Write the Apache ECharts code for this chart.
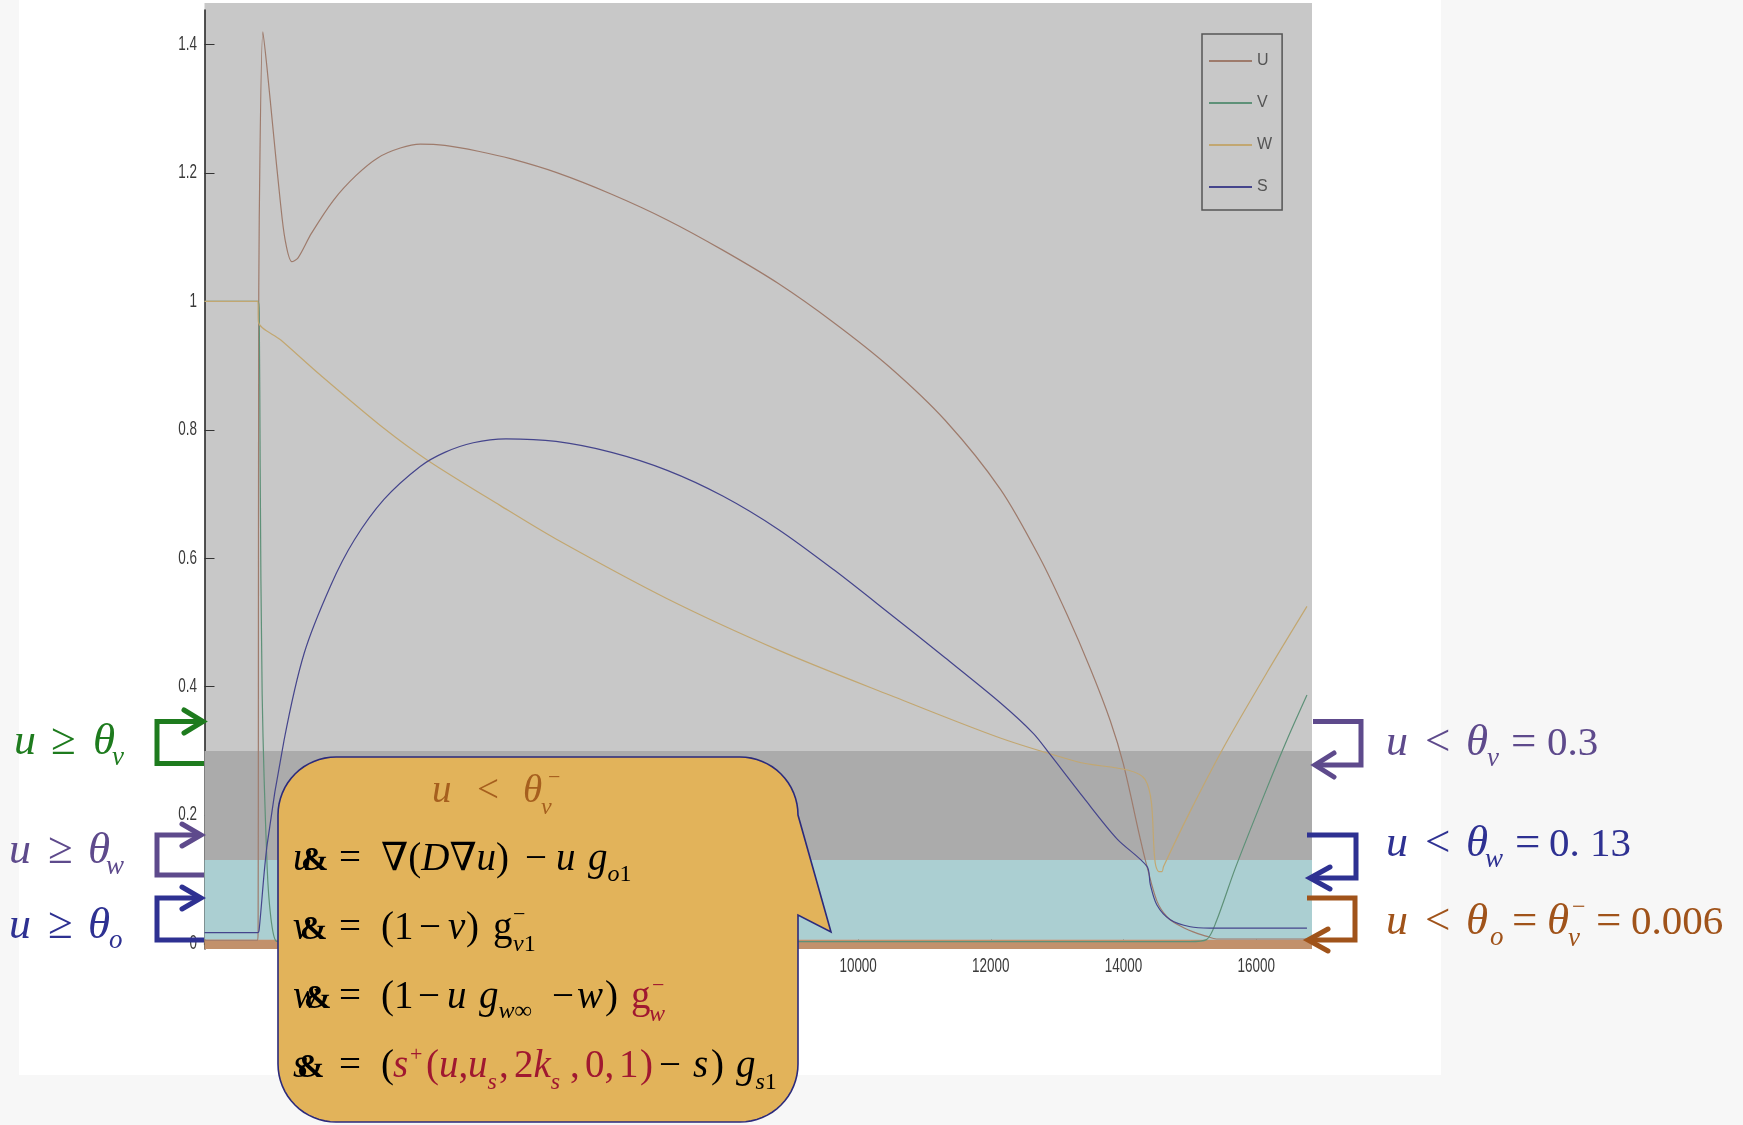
<!DOCTYPE html>
<html>
<head>
<meta charset="utf-8">
<script src="https://cdn.jsdelivr.net/npm/echarts@6/dist/echarts.min.js"></script>
<style>
  html, body { margin: 0; padding: 0; background: #f7f7f7; }
  #chart { width: 1743px; height: 1125px; }
</style>
</head>
<body>
<div id="chart"></div>
<script>
// Time course of the four state variables of the ventricular cell model
// (x: time step, y: normalised value)
const uCurve = [
  [150, 0.005], [950, 0.005], [958, 0.02], [962, 0.4], [966, 0.9], [975, 1.13],
  [1030, 1.42], [1090, 1.366], [1189, 1.262], [1290, 1.158], [1365, 1.096],
  [1466, 1.062], [1560, 1.068], [1761, 1.106], [2096, 1.158], [2431, 1.196],
  [2766, 1.224], [3101, 1.239], [3403, 1.245], [3771, 1.243], [4274, 1.234],
  [4776, 1.222], [5447, 1.201], [6285, 1.167], [7123, 1.127], [7960, 1.080],
  [8798, 1.028], [9635, 0.967], [10473, 0.898], [11311, 0.815], [12148, 0.707],
  [12742, 0.600], [13150, 0.512], [13500, 0.428], [13800, 0.347], [13996, 0.280],
  [14252, 0.163], [14353, 0.12], [14503, 0.066], [14650, 0.042], [14805, 0.030],
  [15050, 0.018], [15257, 0.011], [15400, 0.007], [16764, 0.007]
];
const vCurve = [
  [150, 1.0], [958, 1.0], [975, 0.98], [989, 0.742], [1019, 0.388], [1094, 0.119],
  [1150, 0.04], [1225, 0.004], [1300, 0.003], [15000, 0.003], [15250, 0.006],
  [15400, 0.035], [15683, 0.117], [16161, 0.242], [16462, 0.317], [16764, 0.387]
];
const wCurve = [
  [150, 1.0], [955, 1.0], [962, 0.968], [1300, 0.94], [1900, 0.885], [2858, 0.802],
  [3521, 0.752], [4609, 0.682], [5447, 0.630], [7123, 0.537], [8798, 0.457],
  [10473, 0.387], [12142, 0.320], [13300, 0.283], [14327, 0.255], [14478, 0.125],
  [14530, 0.112], [14580, 0.112], [14603, 0.12], [15000, 0.205], [15532, 0.31],
  [16161, 0.422], [16764, 0.525]
];
const sCurve = [
  [150, 0.017], [955, 0.017], [975, 0.023], [1094, 0.154], [1350, 0.317],
  [1652, 0.452], [2054, 0.558], [2405, 0.628], [2858, 0.692], [3400, 0.743],
  [3771, 0.765], [4200, 0.780], [4693, 0.786], [5447, 0.782], [6285, 0.765],
  [7123, 0.737], [7960, 0.697], [8798, 0.645], [9635, 0.582], [10473, 0.514],
  [11311, 0.445], [12142, 0.375], [12643, 0.327], [12896, 0.294], [13398, 0.227],
  [13901, 0.163], [14353, 0.120], [14403, 0.092], [14503, 0.060], [14704, 0.037],
  [15005, 0.026], [15300, 0.024], [16764, 0.024]
];
const seriesNames = ['U', 'V', 'W', 'S'];
const seriesColors = ['#9E7B6C', '#5E9178', '#C2A771', '#45458C'];
const xTicks = [2000, 4000, 6000, 8000, 10000, 12000, 14000, 16000];
const yTicks = [0, 0.2, 0.4, 0.6, 0.8, 1.0, 1.2, 1.4];
// gate thresholds drawn as horizontal bands
const thetaV = 0.3;
const thetaW = 0.13;
const thetaO = 0.006;

const X_MIN = 150, X_MAX = 16840;
const Y_MIN = -0.0086, Y_MAX = 1.454;

const SERIF = "'Liberation Serif','Times New Roman','DejaVu Serif',serif";
const SANS = "'Liberation Sans',Arial,sans-serif";

const meas = document.createElement('canvas').getContext('2d');
function fontOf(p) {
  return (p.i ? 'italic ' : '') + (p.b ? 'bold ' : '') + p.s + 'px ' + SERIF;
}
const g = [];

// lays out a run of math tokens left to right on a common baseline
function mathRun(base, defaults, parts) {
  let x = 0;
  for (const raw of parts) {
    const p = Object.assign({ s: 39, c: '#000' }, defaults, raw);
    if (p.x != null) x = p.x;
    const font = fontOf(p);
    meas.font = font;
    const w = meas.measureText(p.t).width;
    g.push({
      type: 'text', z: 120, silent: true,
      style: {
        text: p.t, x: x, y: base + (p.dy || 0) - 0.34 * p.s,
        font: font, fill: p.c, align: 'left', verticalAlign: 'middle'
      }
    });
    x += w;
  }
}

function bracket(points, head, color) {
  g.push({ type: 'polyline', z: 110, silent: true, shape: { points: points },
    style: { stroke: color, lineWidth: 5, fill: null, lineJoin: 'miter' } });
  g.push({ type: 'polyline', z: 110, silent: true, shape: { points: head },
    style: { stroke: color, lineWidth: 5, fill: null, lineJoin: 'miter', lineCap: 'round' } });
}

function arcPoints(cx, cy, r, a0, a1) {
  const pts = [];
  const n = 16;
  for (let k = 0; k <= n; k++) {
    const a = (a0 + (a1 - a0) * k / n) * Math.PI / 180;
    pts.push([cx + r * Math.cos(a), cy + r * Math.sin(a)]);
  }
  return pts;
}

// slide and figure backgrounds
g.push({ type: 'rect', z: -20, silent: true, shape: { x: 19, y: 0, width: 1422, height: 1075 }, style: { fill: '#ffffff' } });
g.push({ type: 'rect', z: -10, silent: true, shape: { x: 204.5, y: 3, width: 1107.5, height: 946 }, style: { fill: '#C8C8C8' } });

// threshold arrows on the left
const GREEN = '#1E7B1E', PURPLE = '#5E4A8C', BLUE = '#2E3192', BROWN = '#A0531A', RED = '#A01830';
bracket([[204, 763.5], [157, 763.5], [157, 721.5], [200, 721.5]], [[184, 710], [203, 721.5], [184, 733]], GREEN);
bracket([[204, 875], [157, 875], [157, 835], [198, 835]], [[182, 824], [201, 835], [182, 846]], PURPLE);
bracket([[204, 940], [157, 940], [157, 898], [198, 898]], [[182, 887], [201, 898], [182, 909]], BLUE);
// threshold arrows on the right
bracket([[1313, 721.5], [1361, 721.5], [1361, 765], [1318, 765]], [[1334, 753], [1315, 765], [1334, 777]], PURPLE);
bracket([[1307, 835], [1356, 835], [1356, 878], [1313, 878]], [[1330, 867], [1310, 878], [1330, 889]], BLUE);
bracket([[1307, 898], [1355, 898], [1355, 940], [1311, 940]], [[1328, 929], [1308, 940], [1328, 951]], BROWN);

// left labels
const SYM = 45;
mathRun(757, { c: GREEN, s: 44 }, [
  { t: 'u', i: 1, x: 14 }, { t: '≥', s: SYM, x: 51 }, { t: 'θ', i: 1, s: SYM, x: 93 }, { t: 'v', i: 1, s: 27, x: 112, dy: 10 }
]);
mathRun(866, { c: PURPLE, s: 44 }, [
  { t: 'u', i: 1, x: 9 }, { t: '≥', s: SYM, x: 48 }, { t: 'θ', i: 1, s: SYM, x: 88 }, { t: 'w', i: 1, s: 27, x: 106, dy: 10 }
]);
mathRun(941, { c: BLUE, s: 44 }, [
  { t: 'u', i: 1, x: 9 }, { t: '≥', s: SYM, x: 48 }, { t: 'θ', i: 1, s: SYM, x: 88 }, { t: 'o', i: 1, s: 27, x: 109, dy: 9 }
]);
// right labels
mathRun(758, { c: PURPLE, s: 44 }, [
  { t: 'u', i: 1, x: 1386 }, { t: '<', s: SYM, x: 1425 }, { t: 'θ', i: 1, s: SYM, x: 1466 }, { t: 'v', i: 1, s: 27, x: 1487, dy: 10 },
  { t: '=', s: SYM, x: 1511 }, { t: '0.3', s: 41, x: 1547 }
]);
mathRun(859, { c: BLUE, s: 44 }, [
  { t: 'u', i: 1, x: 1386 }, { t: '<', s: SYM, x: 1425 }, { t: 'θ', i: 1, s: SYM, x: 1466 }, { t: 'w', i: 1, s: 27, x: 1485, dy: 10 },
  { t: '=', s: SYM, x: 1515 }, { t: '0. 13', s: 41, x: 1549 }
]);
mathRun(937, { c: BROWN, s: 44 }, [
  { t: 'u', i: 1, x: 1386 }, { t: '<', s: SYM, x: 1425 }, { t: 'θ', i: 1, s: SYM, x: 1466 }, { t: 'o', i: 1, s: 27, x: 1490, dy: 10 },
  { t: '=', s: SYM, x: 1512 }, { t: 'θ', i: 1, s: SYM, x: 1547 }, { t: '−', s: 24, x: 1572, dy: -21 }, { t: 'v', i: 1, s: 27, x: 1568, dy: 11 },
  { t: '=', s: SYM, x: 1596 }, { t: '0.006', s: 41, x: 1631 }
]);

// callout with the sub-threshold equations
(function () {
  const L = 278, R = 798, T = 757, B = 1122, r = 58;
  let pts = [];
  pts = pts.concat(arcPoints(L + r, T + r, r, 180, 270));
  pts = pts.concat(arcPoints(R - r, T + r, r, 270, 360));
  pts.push([831, 932], [R, 915]);
  pts = pts.concat(arcPoints(R - r, B - r, r, 0, 90));
  pts = pts.concat(arcPoints(L + r, B - r, r, 90, 180));
  g.push({ type: 'polygon', z: 115, silent: true, shape: { points: pts },
    style: { fill: '#E2B35A', stroke: '#2B2A7C', lineWidth: 1.6, lineJoin: 'miter' } });
})();

const AMP = { t: '&', b: 1, s: 33 };
mathRun(805, { c: '#A65F1E' }, [
  { t: 'u', i: 1, x: 432 }, { t: '<', x: 477 }, { t: 'θ', i: 1, x: 523 },
  { t: '−', s: 22, x: 548, dy: -19.5 }, { t: 'v', i: 1, s: 24, x: 541, dy: 11 }
]);
mathRun(873, {}, [
  { t: 'u', i: 1, x: 293 }, Object.assign({ x: 301 }, AMP), { t: '=', x: 339 },
  { t: '∇(', x: 381 }, { t: 'D', i: 1 }, { t: '∇' }, { t: 'u', i: 1 }, { t: ')' },
  { t: '−', x: 525 }, { t: 'u', i: 1, x: 556 }, { t: 'g', i: 1, x: 588 },
  { t: 'o', i: 1, s: 24, dy: 10 }, { t: '1', s: 24, dy: 10 }
]);
mathRun(942, {}, [
  { t: 'v', i: 1, x: 293 }, Object.assign({ x: 300 }, AMP), { t: '=', x: 339 },
  { t: '(1', x: 381 }, { t: '−', x: 419 }, { t: 'v', i: 1, x: 448 }, { t: ')', x: 466 },
  { t: 'g', x: 493 }, { t: '−', s: 22, x: 513, dy: -19.5 }, { t: 'v', i: 1, s: 24, x: 513, dy: 11 }, { t: '1', s: 24, dy: 11 }
]);
mathRun(1011, {}, [
  { t: 'w', i: 1, x: 293 }, Object.assign({ x: 304 }, AMP), { t: '=', x: 339 },
  { t: '(1', x: 381 }, { t: '−', x: 418 }, { t: 'u', i: 1, x: 447 }, { t: 'g', i: 1, x: 479 },
  { t: 'w∞', i: 1, s: 24, dy: 9 }, { t: '−', x: 552 }, { t: 'w', i: 1, x: 577 }, { t: ')', x: 605 },
  { t: 'g', c: RED, x: 631 }, { t: '−', s: 22, c: RED, x: 652, dy: -17.5 }, { t: 'w', i: 1, s: 24, c: RED, x: 649, dy: 12 }
]);
mathRun(1080, {}, [
  { t: 's', i: 1, x: 293 }, Object.assign({ x: 297 }, AMP), { t: '=', x: 339 },
  { t: '(', x: 381 }, { t: 's', i: 1, c: RED, x: 393 }, { t: '+', s: 22, c: RED, x: 410, dy: -17 },
  { t: '(', c: RED, x: 426 }, { t: 'u', i: 1, c: RED }, { t: ',', c: RED },
  { t: 'u', i: 1, c: RED, x: 468 }, { t: 's', i: 1, s: 24, c: RED, dy: 11 },
  { t: ',', c: RED, x: 499 }, { t: '2', c: RED, x: 514 }, { t: 'k', i: 1, c: RED },
  { t: 's', i: 1, s: 24, c: RED, dy: 11 }, { t: ',', c: RED, x: 570 }, { t: '0', c: RED, x: 585 },
  { t: ',', c: RED }, { t: '1', c: RED, x: 619 }, { t: ')', c: RED, x: 640 },
  { t: '−', x: 659 }, { t: 's', i: 1, x: 693 }, { t: ')', x: 711 },
  { t: 'g', i: 1, x: 736 }, { t: 's', i: 1, s: 24, dy: 11 }, { t: '1', s: 24, dy: 11 }
]);

const curves = [uCurve, vCurve, wCurve, sCurve];
const lineSeries = seriesNames.map((name, k) => ({
  name: name,
  type: 'line',
  data: curves[k],
  showSymbol: false,
  symbol: 'none',
  smooth: 0.3,
  z: 3,
  lineStyle: { width: 1.2, color: seriesColors[k] },
  itemStyle: { color: seriesColors[k] },
  emphasis: { disabled: true }
}));

const chart = echarts.init(document.getElementById('chart'), null, { width: 1743, height: 1125 });
chart.setOption({
  animation: false,
  backgroundColor: '#f7f7f7',
  grid: { left: 204.5, right: 1743 - 1312, top: 10, bottom: 1125 - 949, containLabel: false },
  legend: {
    data: seriesNames,
    orient: 'vertical',
    left: 1202, top: 34,
    padding: [18, 10, 14, 7],
    itemGap: 24,
    itemWidth: 43, itemHeight: 2,
    icon: 'rect',
    borderColor: '#555', borderWidth: 1.5,
    backgroundColor: '#C8C8C8',
    textStyle: { fontFamily: SANS, fontSize: 16, lineHeight: 18, color: '#555' },
    selectedMode: false
  },
  xAxis: {
    type: 'value', min: X_MIN, max: X_MAX,
    axisLine: { lineStyle: { color: '#222', width: 1.5 } },
    axisTick: { inside: true, length: 20, customValues: xTicks, lineStyle: { color: '#333', width: 1 } },
    axisLabel: { show: false },
    splitLine: { show: false }
  },
  yAxis: {
    type: 'value', min: Y_MIN, max: Y_MAX,
    axisLine: { show: true, lineStyle: { color: '#222', width: 1.5 } },
    axisTick: { show: true, inside: true, length: 10, customValues: yTicks, lineStyle: { color: '#333', width: 1 } },
    axisLabel: { show: false },
    splitLine: { show: false }
  },
  series: [
    {
      name: 'bands', type: 'line', data: [], z: 1, silent: true,
      markArea: {
        silent: true,
        label: { show: false },
        data: [
          [{ yAxis: thetaV, itemStyle: { color: '#ABABAB' } }, { yAxis: thetaW }],
          [{ yAxis: thetaW, itemStyle: { color: '#ABCFD2' } }, { yAxis: thetaO }],
          [{ yAxis: thetaO, itemStyle: { color: '#C2916C' } }, { yAxis: Y_MIN }]
        ]
      }
    }
  ].concat(lineSeries)
});

// condensed tick labels placed through the axis scales
const TICK_FONT = '19.5px ' + SANS;
xTicks.forEach(v => {
  const p = chart.convertToPixel({ gridIndex: 0 }, [v, 0]);
  g.push({ type: 'text', z: 50, silent: true, x: p[0], y: 957, scaleX: 0.69,
    style: { text: String(v), x: 0, y: 0, font: TICK_FONT, fill: '#3a3a3a', align: 'center', verticalAlign: 'top' } });
});
yTicks.forEach(v => {
  const p = chart.convertToPixel({ gridIndex: 0 }, [X_MIN, v]);
  g.push({ type: 'text', z: 50, silent: true, x: 197, y: p[1], scaleX: 0.69,
    style: { text: String(Math.round(v * 10) / 10), x: 0, y: 0, font: TICK_FONT, fill: '#3a3a3a', align: 'right', verticalAlign: 'middle' } });
});

chart.setOption({ graphic: { elements: g } });
</script>
</body>
</html>
